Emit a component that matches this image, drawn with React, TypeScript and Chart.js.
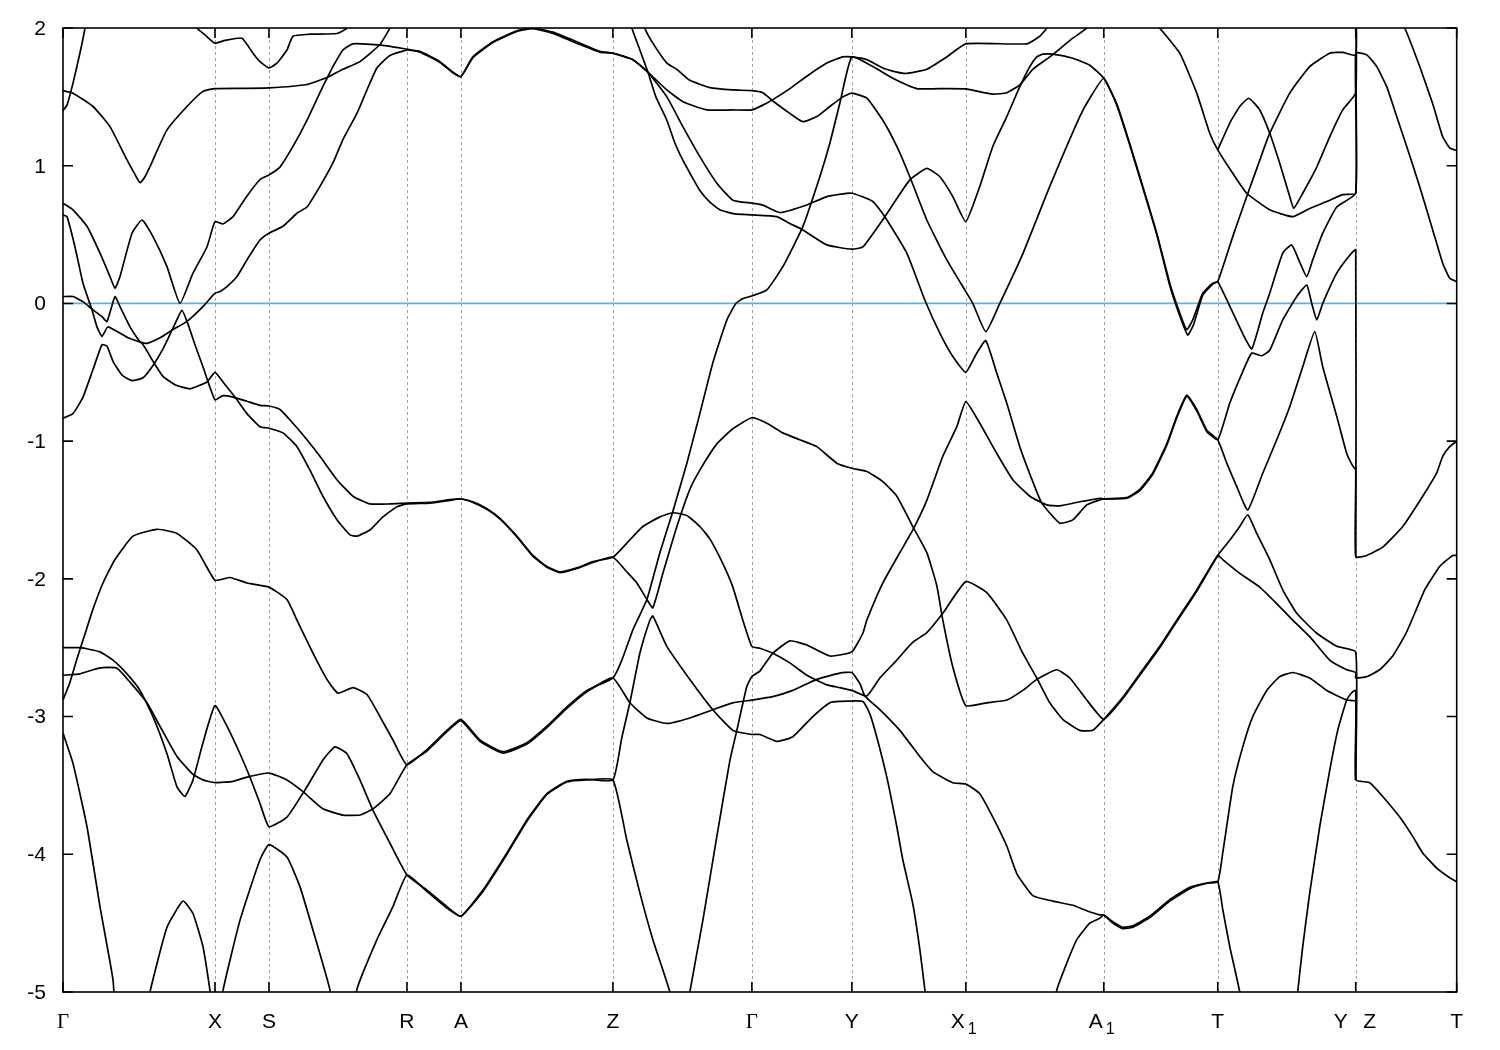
import React, { useEffect, useRef } from 'react';
import { Chart, registerables } from 'chart.js';
Chart.register(...registerables);

type Pt = [number, number];

// high-symmetry k-path positions and labels
const K_TICKS = [0, 152, 206, 344, 398, 550, 689, 789, 903, 1041, 1155, 1293, 1394];
const K_LABELS = ['Γ', 'X', 'S', 'R', 'A', 'Z', 'Γ', 'Y', 'X1', 'A1', 'T', 'Y|Z', 'T'];
const E_TICKS = [-5, -4, -3, -2, -1, 0, 1, 2];
const E_MIN = -5;
const E_MAX = 2;
const K_MAX = 1394;

// bands: [k, energy (eV)]
const band01: Pt[] = [[0,1.545],[10,1.527],[30,1.43],[47,1.284],[64,1.042],[71,0.95],[77,0.877],[82,0.92],[87,0.994],[104,1.26],[124,1.43],[140,1.54],[152,1.56],[180,1.562],[206,1.565],[244,1.59],[264,1.64],[280,1.70],[297,1.756],[317,1.88],[327,2.0],[335,2.15]];
const band02: Pt[] = [[0,1.40],[4,1.44],[10,1.60],[17,1.82],[22,2.0],[27,2.25]];
const band03: Pt[] = [[124,2.25],[134,2.0],[142,1.95],[152,1.89],[162,1.91],[179,1.926],[190,1.817],[197,1.756],[206,1.71],[214,1.745],[224,1.84],[230,1.94],[247,1.955],[274,1.96],[284,2.0],[292,2.15]];
const band04: Pt[] = [[0,0.728],[10,0.68],[24,0.56],[37,0.365],[47,0.195],[52,0.11],[57,0.195],[69,0.51],[79,0.606],[90,0.485],[104,0.267],[117,0.0],[130,0.22],[144,0.41],[152,0.594],[160,0.577],[170,0.63],[183,0.77],[197,0.90],[206,0.933],[217,0.99],[230,1.14],[244,1.33],[257,1.53],[264,1.635],[270,1.72],[280,1.84],[290,1.885],[317,1.877],[344,1.846],[357,1.83],[377,1.756],[390,1.68],[398,1.647],[410,1.79],[430,1.90],[454,1.98],[470,2.0],[490,1.97],[517,1.89],[537,1.83],[550,1.817],[570,1.77],[585,1.68],[604,1.55],[620,1.465],[644,1.405],[670,1.405],[689,1.405],[700,1.44],[710,1.48],[727,1.56],[744,1.65],[764,1.745],[780,1.79],[789,1.79],[804,1.77],[820,1.71],[834,1.68],[844,1.67],[864,1.70],[884,1.79],[903,1.885],[964,1.885],[977,1.94],[984,2.0],[990,2.15]];
const band05: Pt[] = [[0,0.05],[10,0.05],[20,0.013],[30,-0.047],[39,-0.096],[44,-0.132],[52,0.05],[57,-0.023],[67,-0.17],[77,-0.277],[84,-0.29],[97,-0.25],[110,-0.19],[124,-0.13],[140,-0.023],[152,0.074],[157,0.086],[164,0.122],[174,0.195],[184,0.316],[197,0.46],[206,0.51],[220,0.56],[234,0.655],[244,0.70],[257,0.85],[270,1.02],[280,1.19],[294,1.38],[304,1.55],[314,1.71],[327,1.80],[344,1.84],[357,1.825],[377,1.75],[390,1.675],[398,1.647],[410,1.785],[430,1.895],[454,1.975],[470,1.995],[490,1.96],[517,1.88],[537,1.825],[550,1.817],[570,1.77],[585,1.68],[604,1.50],[620,1.284],[637,1.066],[654,0.873],[670,0.75],[689,0.728],[700,0.714],[717,0.66],[744,0.715],[764,0.776],[789,0.80],[810,0.74],[822,0.63],[844,0.365],[862,0.025],[877,-0.216],[890,-0.386],[903,-0.50],[914,-0.36],[923,-0.27],[934,-0.507],[944,-0.725],[957,-1.04],[970,-1.294],[979,-1.45],[997,-1.596],[1010,-1.572],[1024,-1.463],[1037,-1.427],[1041,-1.42],[1064,-1.41],[1077,-1.35],[1090,-1.23],[1104,-1.02],[1114,-0.82],[1124,-0.665],[1134,-0.77],[1144,-0.92],[1155,-0.99],[1164,-1.16],[1174,-1.33],[1185,-1.50],[1200,-1.233],[1214,-0.99],[1227,-0.75],[1240,-0.46],[1252,-0.205],[1260,-0.46],[1274,-0.82],[1284,-1.09],[1290,-1.18],[1293,-1.21],[1293,-1.84],[1304,-1.83],[1320,-1.77],[1340,-1.62],[1360,-1.40],[1374,-1.23],[1380,-1.11],[1387,-1.04],[1394,-1.00]];
const band06: Pt[] = [[560,2.25],[569,2.0],[577,1.84],[585,1.68],[593,1.50],[604,1.33],[612,1.165],[620,1.04],[629,0.92],[637,0.82],[647,0.735],[657,0.68],[672,0.65],[689,0.643],[714,0.63],[727,0.58],[740,0.534],[764,0.425],[789,0.394],[800,0.41],[822,0.63],[847,0.897],[864,0.98],[877,0.92],[890,0.776],[903,0.594],[917,0.85],[930,1.14],[944,1.357],[957,1.574],[967,1.72],[974,1.79],[980,1.81],[990,1.81],[1010,1.78],[1027,1.73],[1041,1.635],[1054,1.45],[1067,1.16],[1080,0.85],[1094,0.51],[1107,0.147],[1117,-0.07],[1124,-0.19],[1130,-0.12],[1140,0.074],[1150,0.147],[1155,0.158],[1170,0.485],[1184,0.776],[1197,1.04],[1207,1.236],[1227,1.527],[1247,1.72],[1267,1.817],[1280,1.823],[1293,1.805],[1293,2.3]];
const band07: Pt[] = [[577,2.25],[582,2.0],[590,1.89],[604,1.745],[614,1.70],[627,1.62],[647,1.567],[670,1.55],[689,1.545],[700,1.53],[710,1.47],[727,1.38],[740,1.32],[754,1.357],[767,1.43],[780,1.50],[789,1.527],[804,1.49],[820,1.33],[834,1.14],[847,0.92],[864,0.606],[884,0.316],[903,0.086],[910,0.0],[923,-0.205],[937,0.0],[960,0.36],[987,0.85],[1017,1.357],[1027,1.49],[1041,1.635],[1054,1.44],[1067,1.15],[1080,0.84],[1094,0.50],[1107,0.13],[1117,-0.09],[1125,-0.23],[1131,-0.15],[1140,0.06],[1150,0.14],[1155,0.158],[1167,-0.02],[1180,-0.22],[1189,-0.33],[1200,-0.07],[1207,0.074],[1220,0.365],[1229,0.425],[1237,0.30],[1244,0.195],[1250,0.316],[1260,0.51],[1274,0.70],[1293,0.80],[1293,1.817],[1304,1.805],[1314,1.72],[1324,1.574],[1334,1.357],[1344,1.139],[1357,0.848],[1370,0.534],[1380,0.292],[1387,0.183],[1394,0.158]];
const band08: Pt[] = [[0,-2.88],[7,-2.75],[14,-2.58],[22,-2.40],[30,-2.22],[40,-2.03],[52,-1.86],[70,-1.69],[94,-1.64],[114,-1.67],[134,-1.79],[152,-2.01],[167,-1.99],[184,-2.03],[206,-2.06],[224,-2.15],[234,-2.30],[250,-2.54],[264,-2.73],[275,-2.83],[290,-2.79],[304,-2.84],[317,-3.00],[330,-3.17],[344,-3.35],[364,-3.24],[384,-3.10],[398,-3.02],[417,-3.17],[440,-3.255],[464,-3.19],[484,-3.07],[504,-2.93],[524,-2.81],[550,-2.72],[559,-2.59],[570,-2.37],[584,-2.15],[597,-1.81],[610,-1.51],[624,-1.16],[637,-0.80],[650,-0.43],[664,-0.12],[673,0.0],[680,0.035],[689,0.054],[704,0.098],[720,0.267],[740,0.558],[757,0.92],[767,1.163],[777,1.454],[789,1.79],[810,1.72],[830,1.635],[854,1.56],[884,1.56],[903,1.558],[930,1.52],[944,1.53],[957,1.587],[970,1.70],[987,1.79],[1010,1.926],[1024,2.0],[1032,2.12]];
const band09: Pt[] = [[0,-2.70],[17,-2.69],[30,-2.66],[40,-2.645],[54,-2.65],[67,-2.75],[84,-2.90],[97,-3.07],[114,-3.29],[130,-3.42],[140,-3.46],[152,-3.48],[170,-3.47],[184,-3.44],[206,-3.41],[224,-3.46],[240,-3.545],[260,-3.67],[280,-3.715],[297,-3.715],[310,-3.67],[327,-3.56],[344,-3.35],[364,-3.25],[384,-3.11],[398,-3.03],[417,-3.18],[440,-3.265],[464,-3.20],[484,-3.08],[504,-2.94],[524,-2.82],[550,-2.72],[567,-2.90],[584,-3.01],[604,-3.05],[627,-3.01],[650,-2.95],[670,-2.90],[689,-2.88],[710,-2.855],[730,-2.81],[754,-2.73],[777,-2.685],[789,-2.68],[797,-2.76],[802,-2.85],[817,-2.95],[837,-3.10],[857,-3.29],[870,-3.40],[890,-3.48],[903,-3.49],[917,-3.56],[930,-3.73],[944,-3.94],[954,-4.14],[970,-4.30],[990,-4.34],[1010,-4.37],[1024,-4.41],[1037,-4.44],[1041,-4.44],[1050,-4.49],[1060,-4.53],[1070,-4.52],[1087,-4.45],[1107,-4.33],[1127,-4.24],[1144,-4.21],[1155,-4.20],[1160,-3.99],[1170,-3.51],[1180,-3.22],[1190,-3.00],[1204,-2.81],[1217,-2.71],[1230,-2.68],[1247,-2.72],[1264,-2.81],[1284,-2.88],[1293,-2.89],[1293,-3.46],[1307,-3.48],[1320,-3.58],[1337,-3.73],[1350,-3.87],[1360,-3.99],[1374,-4.10],[1387,-4.17],[1394,-4.20]];
const band10: Pt[] = [[0,-2.50],[17,-2.50],[37,-2.53],[50,-2.59],[64,-2.69],[77,-2.81],[90,-3.00],[104,-3.27],[114,-3.51],[122,-3.58],[130,-3.46],[140,-3.19],[152,-2.92],[164,-3.07],[177,-3.27],[187,-3.44],[197,-3.63],[206,-3.80],[224,-3.73],[244,-3.51],[260,-3.315],[272,-3.22],[284,-3.27],[297,-3.46],[310,-3.68],[327,-3.92],[344,-4.15],[364,-4.26],[384,-4.38],[398,-4.45],[420,-4.26],[444,-3.99],[464,-3.75],[484,-3.56],[504,-3.47],[524,-3.455],[550,-3.46],[559,-3.15],[567,-2.90],[577,-2.54],[587,-2.30],[590,-2.27],[604,-2.49],[627,-2.73],[650,-2.95],[670,-3.10],[689,-3.13],[697,-3.13],[714,-3.18],[730,-3.146],[750,-3.00],[767,-2.90],[777,-2.89],[800,-2.89],[807,-2.98],[814,-3.15],[824,-3.44],[834,-3.80],[840,-4.04],[850,-4.36],[857,-4.69],[862,-4.98],[864,-5.15]];
const band11: Pt[] = [[0,-3.12],[10,-3.34],[24,-3.80],[37,-4.38],[50,-4.91],[52,-5.15]];
const band12: Pt[] = [[0,-0.834],[10,-0.80],[20,-0.68],[30,-0.48],[39,-0.30],[44,-0.31],[50,-0.42],[59,-0.52],[69,-0.56],[80,-0.54],[90,-0.45],[100,-0.33],[110,-0.18],[119,-0.05],[125,-0.15],[132,-0.30],[140,-0.46],[152,-0.70],[160,-0.67],[170,-0.68],[184,-0.71],[197,-0.74],[206,-0.745],[217,-0.77],[230,-0.87],[244,-0.99],[257,-1.11],[274,-1.28],[290,-1.40],[307,-1.456],[327,-1.456],[344,-1.45],[367,-1.445],[387,-1.425],[398,-1.42],[410,-1.44],[424,-1.49],[437,-1.56],[454,-1.69],[470,-1.83],[484,-1.91],[497,-1.95],[514,-1.92],[530,-1.875],[550,-1.843],[564,-1.74],[580,-1.62],[597,-1.55],[610,-1.52],[624,-1.54],[637,-1.62],[647,-1.71],[660,-1.89],[670,-2.06],[680,-2.30],[689,-2.49],[697,-2.504],[710,-2.54],[727,-2.61],[744,-2.70],[764,-2.77],[777,-2.79],[789,-2.81],[804,-2.85],[817,-2.72],[834,-2.59],[850,-2.46],[864,-2.39],[880,-2.25],[903,-2.02],[924,-2.10],[944,-2.30],[960,-2.54],[974,-2.72],[987,-2.90],[1000,-3.02],[1017,-3.10],[1030,-3.10],[1041,-3.02],[1060,-2.86],[1077,-2.69],[1097,-2.49],[1114,-2.30],[1134,-2.08],[1155,-1.83],[1160,-1.86],[1177,-1.96],[1197,-2.06],[1214,-2.18],[1230,-2.30],[1247,-2.42],[1267,-2.59],[1284,-2.66],[1293,-2.68],[1293,-2.72],[1304,-2.71],[1317,-2.66],[1330,-2.56],[1343,-2.40],[1352,-2.25],[1362,-2.08],[1377,-1.91],[1390,-1.83],[1394,-1.83]];
const band13: Pt[] = [[0,0.643],[4,0.63],[12,0.41],[20,0.147],[29,-0.047],[34,-0.17],[39,-0.24],[45,-0.17],[65,-0.25],[79,-0.29],[90,-0.42],[100,-0.53],[112,-0.59],[127,-0.62],[144,-0.57],[152,-0.50],[160,-0.57],[172,-0.68],[184,-0.80],[197,-0.895],[206,-0.906],[220,-0.94],[234,-1.04],[247,-1.21],[260,-1.40],[274,-1.57],[287,-1.68],[294,-1.69],[307,-1.645],[320,-1.55],[334,-1.476],[344,-1.456],[367,-1.45],[387,-1.43],[398,-1.42],[410,-1.445],[424,-1.495],[437,-1.565],[454,-1.695],[470,-1.835],[484,-1.915],[497,-1.955],[514,-1.925],[530,-1.88],[550,-1.843],[564,-1.95],[574,-2.03],[584,-2.15],[590,-2.21],[600,-1.96],[614,-1.62],[627,-1.35],[637,-1.21],[654,-1.02],[670,-0.91],[689,-0.83],[704,-0.87],[720,-0.94],[737,-0.99],[754,-1.04],[774,-1.16],[789,-1.197],[804,-1.22],[820,-1.294],[834,-1.40],[850,-1.62],[864,-1.81],[874,-2.05],[880,-2.30],[890,-2.64],[903,-2.92],[924,-2.90],[944,-2.88],[960,-2.81],[974,-2.73],[994,-2.66],[1007,-2.72],[1024,-2.88],[1041,-3.02],[1060,-2.87],[1077,-2.70],[1097,-2.50],[1114,-2.31],[1134,-2.09],[1155,-1.83],[1167,-1.72],[1177,-1.62],[1185,-1.535],[1194,-1.67],[1207,-1.86],[1220,-2.08],[1234,-2.25],[1254,-2.395],[1274,-2.49],[1293,-2.53],[1293,-3.46]];
const band14: Pt[] = [[625,-5.15],[627,-5.0],[640,-4.48],[654,-3.87],[667,-3.32],[674,-3.10],[684,-2.78],[689,-2.71],[697,-2.67],[710,-2.54],[727,-2.45],[744,-2.48],[767,-2.56],[789,-2.53],[800,-2.395],[804,-2.30],[820,-2.03],[837,-1.81],[850,-1.645],[864,-1.43],[880,-1.11],[894,-0.895],[903,-0.713],[917,-0.87],[934,-1.09],[950,-1.28],[967,-1.40],[984,-1.463],[997,-1.47],[1017,-1.44],[1037,-1.415],[1041,-1.42],[1064,-1.415],[1077,-1.36],[1090,-1.24],[1104,-1.03],[1114,-0.83],[1124,-0.675],[1134,-0.78],[1144,-0.93],[1155,-0.99],[1167,-0.725],[1180,-0.495],[1189,-0.36],[1199,-0.38],[1207,-0.34],[1220,-0.12],[1234,0.05],[1244,0.134],[1249,0.0],[1254,-0.12],[1260,0.0],[1274,0.22],[1287,0.35],[1293,0.39],[1293,-1.84]];
const band15: Pt[] = [[1234,-5.15],[1235,-5.0],[1240,-4.67],[1247,-4.28],[1257,-3.80],[1267,-3.39],[1275,-3.10],[1284,-2.88],[1290,-2.82],[1293,-2.81],[1293,-3.46]];
const band16: Pt[] = [[992,-5.15],[994,-4.985],[1004,-4.79],[1014,-4.62],[1027,-4.50],[1037,-4.465],[1041,-4.44],[1050,-4.50],[1060,-4.54],[1070,-4.53],[1087,-4.46],[1107,-4.34],[1127,-4.25],[1144,-4.21],[1155,-4.20],[1160,-4.40],[1167,-4.67],[1177,-5.0],[1179,-5.15]];
const band17: Pt[] = [[85,-5.15],[87,-5.0],[104,-4.53],[120,-4.34],[130,-4.43],[140,-4.67],[147,-4.99],[148,-5.15]];
const band18: Pt[] = [[159,-5.15],[160,-4.99],[177,-4.48],[197,-4.04],[206,-3.93],[224,-4.02],[237,-4.235],[250,-4.55],[267,-4.985],[268,-5.15]];
const band19: Pt[] = [[293,-5.15],[294,-4.98],[314,-4.62],[330,-4.38],[344,-4.15],[364,-4.27],[384,-4.39],[398,-4.45],[420,-4.27],[444,-4.00],[464,-3.76],[484,-3.565],[504,-3.475],[524,-3.46],[550,-3.46],[564,-3.90],[577,-4.28],[590,-4.62],[607,-5.0],[609,-5.15]];
const band20: Pt[] = [[1087,2.09],[1097,2.0],[1117,1.817],[1134,1.527],[1147,1.236],[1155,1.115],[1170,0.945],[1184,0.80],[1207,0.68],[1230,0.63],[1247,0.69],[1264,0.74],[1280,0.79],[1293,0.80],[1293,1.817]];
const band21: Pt[] = [[1155,1.115],[1167,1.31],[1177,1.43],[1186,1.49],[1197,1.405],[1207,1.236],[1217,1.018],[1227,0.776],[1231,0.69],[1240,0.80],[1254,0.99],[1267,1.21],[1280,1.405],[1293,1.53],[1293,2.3]];
const band22: Pt[] = [[1293,2.6],[1320,2.3],[1342,2.0],[1357,1.72],[1370,1.45],[1380,1.21],[1387,1.13],[1394,1.11]];

const BANDS: Pt[][] = [band01, band02, band03, band04, band05, band06, band07, band08, band09, band10, band11, band12, band13, band14, band15, band16, band17, band18, band19, band20, band21, band22];
const FERMI: Pt[] = [[0, 0], [K_MAX, 0]];

const SANS = '"Liberation Sans", Arial, sans-serif';
const SERIF = '"Liberation Serif", "Times New Roman", serif';

const framePlugin = {
  id: 'gnuFrame',
  beforeDatasetsDraw(chart: any) {
    const { ctx, chartArea: a, scales } = chart;
    ctx.save();
    ctx.strokeStyle = '#a0a0a0';
    ctx.lineWidth = 1;
    ctx.setLineDash([3, 3]);
    K_TICKS.forEach((k, i) => {
      if (i === 0 || i === K_TICKS.length - 1) return;
      const x = Math.round(scales.x.getPixelForValue(k)) + 0.5;
      ctx.beginPath();
      ctx.moveTo(x, a.top);
      ctx.lineTo(x, a.bottom);
      ctx.stroke();
    });
    ctx.restore();
  },
  afterDatasetsDraw(chart: any) {
    const { ctx, chartArea: a, scales } = chart;
    ctx.save();
    ctx.strokeStyle = '#000';
    ctx.lineWidth = 1.6;
    ctx.setLineDash([]);
    ctx.strokeRect(a.left, a.top, a.right - a.left, a.bottom - a.top);
    ctx.lineWidth = 1.6;
    const tl = 10;
    // y ticks
    ctx.fillStyle = '#000';
    ctx.font = `21px ${SANS}`;
    ctx.textAlign = 'right';
    ctx.textBaseline = 'middle';
    E_TICKS.forEach((e) => {
      const y = scales.y.getPixelForValue(e);
      ctx.beginPath();
      ctx.moveTo(a.left, y); ctx.lineTo(a.left + tl, y);
      ctx.moveTo(a.right, y); ctx.lineTo(a.right - tl, y);
      ctx.stroke();
      ctx.fillText(String(e), a.left - 17, y + 1);
    });
    // x ticks + labels
    ctx.textBaseline = 'alphabetic';
    const base = a.bottom + 35.5;
    K_TICKS.forEach((k, i) => {
      const x = scales.x.getPixelForValue(k);
      ctx.beginPath();
      ctx.moveTo(x, a.bottom); ctx.lineTo(x, a.bottom - tl);
      ctx.moveTo(x, a.top); ctx.lineTo(x, a.top + tl);
      ctx.stroke();
      const lab = K_LABELS[i];
      if (lab.includes('|')) {
        const [l, r] = lab.split('|');
        ctx.font = `21px ${SANS}`;
        ctx.textAlign = 'center';
        ctx.fillText(l, x - 15, base);
        ctx.fillText(r, x + 14, base);
        return;
      }
      const m = lab.match(/^(\D+)(\d*)$/);
      const main = m ? m[1] : lab;
      const sub = m ? m[2] : '';
      const font = main === 'Γ' ? `21px ${SERIF}` : `21px ${SANS}`;
      if (!sub) {
        ctx.font = font;
        ctx.textAlign = 'center';
        ctx.fillText(main, x, base);
      } else {
        ctx.font = font;
        const w1 = ctx.measureText(main).width;
        ctx.font = `16px ${SANS}`;
        const w2 = ctx.measureText(sub).width;
        const total = w1 + 3 + w2;
        const start = x - total / 2 - 2;
        ctx.textAlign = 'left';
        ctx.font = font;
        ctx.fillText(main, start, base);
        ctx.font = `16px ${SANS}`;
        ctx.fillText(sub, start + w1 + 3, base + 6);
      }
    });
    ctx.restore();
  },
};

export default function App() {
  const ref = useRef<HTMLCanvasElement>(null);
  useEffect(() => {
    if (!ref.current) return;
    const datasets: any[] = BANDS.map((b) => ({
      data: b.map(([x, y]) => ({ x, y })),
      showLine: true,
      borderColor: '#000000',
      borderWidth: 1.7,
      pointRadius: 0,
      tension: 0.15,
      borderJoinStyle: 'round',
      fill: false,
    }));
    datasets.push({
      data: FERMI.map(([x, y]) => ({ x, y })),
      showLine: true,
      borderColor: '#56b4e9',
      borderWidth: 1.7,
      pointRadius: 0,
      fill: false,
    });
    const chart = new Chart(ref.current, {
      type: 'scatter',
      data: { datasets },
      options: {
        animation: false,
        responsive: false,
        devicePixelRatio: 1,
        events: [],
        layout: { padding: { left: 63, right: 43.3, top: 28, bottom: 58 } },
        plugins: { legend: { display: false }, tooltip: { enabled: false } },
        scales: {
          x: { type: 'linear', min: 0, max: K_MAX, display: false },
          y: { type: 'linear', min: E_MIN, max: E_MAX, display: false },
        },
      },
      plugins: [framePlugin],
    } as any);
    return () => chart.destroy();
  }, []);
  return (
    <div style={{ position: 'fixed', left: 0, top: 0, width: 1500, height: 1050, background: '#fff' }}>
      <canvas ref={ref} width={1500} height={1050} style={{ display: 'block' }} />
    </div>
  );
}
